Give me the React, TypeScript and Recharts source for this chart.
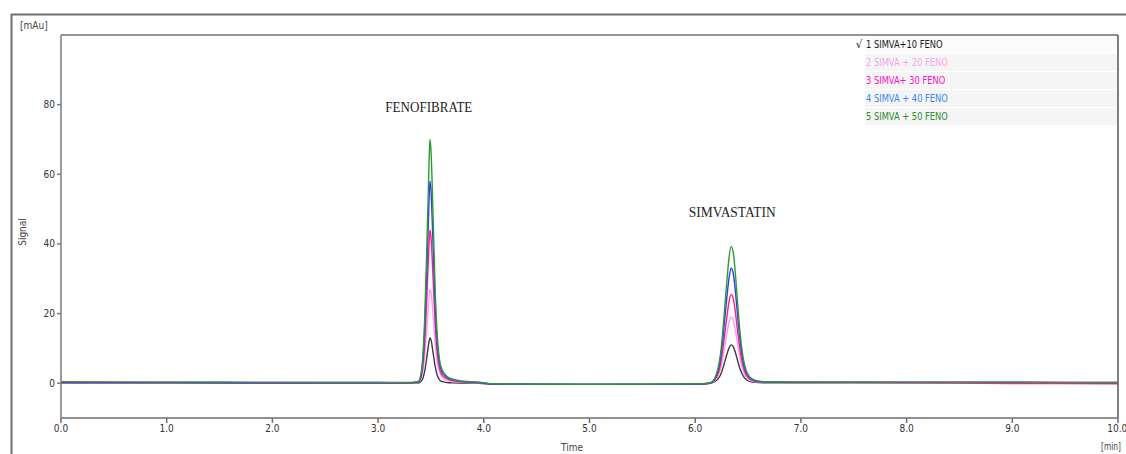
import React from 'react';
import { LineChart, Line, XAxis, YAxis, ReferenceLine, ReferenceDot } from 'recharts';

const times = [0, 1, 2, 3, 3.3, 3.38, 3.4, 3.42, 3.44, 3.46, 3.48, 3.49, 3.5, 3.52, 3.54, 3.56, 3.58, 3.6, 3.65, 3.7, 3.8, 3.95, 4.1, 5.0, 6.0, 6.12, 6.16, 6.2, 6.22, 6.24, 6.26, 6.28, 6.3, 6.32, 6.34, 6.36, 6.38, 6.4, 6.42, 6.44, 6.46, 6.48, 6.5, 6.55, 6.6, 6.7, 7.0, 8.0, 9.0, 10.0];

const s1 = [0.1, 0.1, 0.05, 0.05, 0.05, 0.05, 0.3, 1.1, 3.3, 7.2, 11.6, 13, 12.5, 8.8, 4.8, 2.2, 1.0, 0.5, 0.2, 0.1, 0.05, 0, -0.3, -0.35, -0.3, -0.1, 0.1, 0.8, 1.4, 2.4, 4.1, 6.2, 8.3, 10.1, 11, 10.5, 8.8, 6.6, 4.5, 2.9, 1.8, 1.1, 0.7, 0.3, 0.15, 0.1, 0.1, 0.1, 0.1, 0.1];
const s2 = [0.1, 0.1, 0.05, 0.05, 0.05, 0.2, 0.8, 2.7, 7.3, 15.2, 23.8, 27, 26.2, 19.5, 11.5, 6, 3.2, 1.9, 0.9, 0.5, 0.3, 0.1, -0.3, -0.35, -0.3, -0.1, 0.15, 1.3, 2.3, 4.1, 7.0, 10.6, 14.3, 17.4, 19, 18.1, 15.2, 11.4, 7.8, 5.0, 3.1, 1.9, 1.2, 0.5, 0.3, 0.2, 0.15, 0.1, 0.05, 0.05];
const s3 = [0.1, 0.1, 0.05, 0.05, 0.05, 0.3, 1.1, 4.1, 11.3, 23.9, 38.4, 44, 42.1, 30.2, 17, 8.5, 4.4, 2.6, 1.3, 0.75, 0.4, 0.15, -0.3, -0.35, -0.3, -0.1, 0.2, 1.7, 3.1, 5.5, 9.4, 14.3, 19.1, 23.4, 25.5, 24.3, 20.4, 15.2, 10.4, 6.6, 4.1, 2.5, 1.6, 0.7, 0.4, 0.25, 0.2, 0.1, -0.1, -0.15];
const s4 = [0.2, 0.15, 0.1, 0.1, 0.1, 0.4, 1.5, 5.4, 15, 31.5, 50.5, 58, 55.5, 40, 22.5, 11.2, 5.8, 3.5, 1.7, 1.0, 0.5, 0.2, -0.3, -0.35, -0.3, -0.1, 0.3, 2.2, 4.0, 7.1, 12.2, 18.5, 24.8, 30.2, 33, 31.5, 26.5, 19.7, 13.4, 8.6, 5.3, 3.3, 2.1, 0.9, 0.5, 0.35, 0.3, 0.3, 0.25, 0.2];
const s5 = [0.4, 0.35, 0.3, 0.25, 0.2, 0.5, 1.8, 6.5, 18, 38, 61, 70, 67, 48, 27, 13.5, 7, 4.2, 2.0, 1.2, 0.6, 0.3, -0.2, -0.3, -0.2, 0, 0.4, 2.6, 4.8, 8.5, 14.5, 22, 29.5, 36, 39.3, 37.5, 31.5, 23.5, 16, 10.2, 6.3, 3.9, 2.5, 1.0, 0.6, 0.4, 0.35, 0.3, 0.25, 0.2];

const seriesKeys = ['s1', 's2', 's3', 's4', 's5'];
const seriesValues = [s1, s2, s3, s4, s5];
const seriesNames = ['1 SIMVA+10 FENO', '2 SIMVA + 20 FENO', '3 SIMVA+ 30 FENO', '4 SIMVA + 40 FENO', '5 SIMVA + 50 FENO'];
const lineColors = ['#3a3a3a', '#ff9cf0', '#f8208e', '#2f3cf2', '#2f9a35'];
const legendColors = ['#1a1a1a', '#f3a6ec', '#ff12c6', '#3b86f2', '#2e8b2e'];

const xTicks = [0, 1, 2, 3, 4, 5, 6, 7, 8, 9, 10];
const yTicks = [0, 20, 40, 60, 80];

const peakLabels = [
  { name: 'FENOFIBRATE', t: 3.48, v: 79.4 },
  { name: 'SIMVASTATIN', t: 6.35, v: 49.1 },
];

const data = times.map((t, i) => {
  const row: Record<string, number> = { t };
  seriesKeys.forEach((k, j) => {
    row[k] = seriesValues[j][i];
  });
  return row;
});

const narrow = "'DejaVu Sans Condensed', 'Liberation Sans', sans-serif";
const serif = "'Liberation Serif', 'DejaVu Serif', serif";

export default function App() {
  return (
    <div style={{ position: 'absolute', left: 0, top: 0, width: 1126, height: 454, background: '#fff', overflow: 'hidden' }}>
      <LineChart width={1126} height={454} data={data} margin={{ top: 35, right: 8, bottom: 0, left: 21 }}>
        <XAxis
          dataKey="t"
          type="number"
          domain={[0, 10]}
          ticks={xTicks}
          tickFormatter={(v: number) => v.toFixed(1)}
          height={36}
          tickSize={5}
          tickMargin={2}
          stroke="#6e6e6e"
          strokeWidth={1.5}
          tick={{ fill: '#333', fontSize: 10, fontFamily: narrow }}
          allowDataOverflow
        />
        <YAxis
          type="number"
          domain={[-10, 100]}
          ticks={yTicks}
          width={40}
          tickSize={4}
          tickMargin={2}
          stroke="#7a7a7a"
          strokeWidth={1.5}
          tick={{ fill: '#333', fontSize: 10, fontFamily: narrow }}
          allowDataOverflow
        />
        <ReferenceLine y={100} stroke="#2a2a2a" strokeWidth={1.2} ifOverflow="visible" />
        <ReferenceLine x={10} stroke="#2a2a2a" strokeWidth={1.2} ifOverflow="visible" />
        {seriesKeys.map((k, i) => (
          <Line
            key={k}
            dataKey={k}
            type="monotone"
            stroke={lineColors[i]}
            strokeWidth={1.4}
            dot={false}
            isAnimationActive={false}
            name={seriesNames[i]}
          />
        ))}
        {peakLabels.map((p) => (
          <ReferenceDot
            key={p.name}
            x={p.t}
            y={p.v}
            r={1}
            fill="none"
            stroke="none"
            ifOverflow="visible"
            label={{ value: p.name, position: 'center', fill: '#1e1e1e', fontSize: 14, fontFamily: serif, textLength: 87, lengthAdjust: 'spacingAndGlyphs' } as any}
          />
        ))}
      </LineChart>

      <svg width={1126} height={454} style={{ position: 'absolute', left: 0, top: 0, pointerEvents: 'none' }}>
        <line x1={11} y1={14.5} x2={1126} y2={14.5} stroke="#6f6f6f" strokeWidth={2} />
        <line x1={11.5} y1={14} x2={11.5} y2={454} stroke="#6f6f6f" strokeWidth={2} />
        <text x={20} y={29} fontSize={10} fontFamily={narrow} fill="#444">[mAu]</text>
        <text x={26} y={232} fontSize={10} fontFamily={narrow} fill="#444" textAnchor="middle" transform="rotate(-90 26 232)">Signal</text>
        <text x={572} y={451} fontSize={10} fontFamily={narrow} fill="#444" textAnchor="middle">Time</text>
        <text x={1101} y={450} fontSize={10} fontFamily={narrow} fill="#444" textLength={20} lengthAdjust="spacingAndGlyphs">[min]</text>
      </svg>

      <div style={{ position: 'absolute', left: 0, top: 0 }}>
        {seriesNames.map((n, i) => (
          <div
            key={n}
            style={{
              position: 'absolute',
              left: 865,
              top: 36 + i * 18,
              width: 252,
              height: 17,
              background: i === 0 ? '#fbfbfb' : '#f5f5f5',
            }}
          >
            <span
              style={{
                position: 'absolute',
                left: 1,
                top: 0,
                color: legendColors[i],
                fontFamily: narrow,
                fontSize: 11,
                lineHeight: '17px',
                whiteSpace: 'nowrap',
                transform: 'scaleX(0.84)',
                transformOrigin: 'left center',
              }}
            >
              {n}
            </span>
          </div>
        ))}
        <div style={{ position: 'absolute', left: 856, top: 36, height: 17, lineHeight: '17px', fontSize: 11, fontFamily: narrow, color: '#1a1a1a' }}>√</div>
      </div>
    </div>
  );
}
